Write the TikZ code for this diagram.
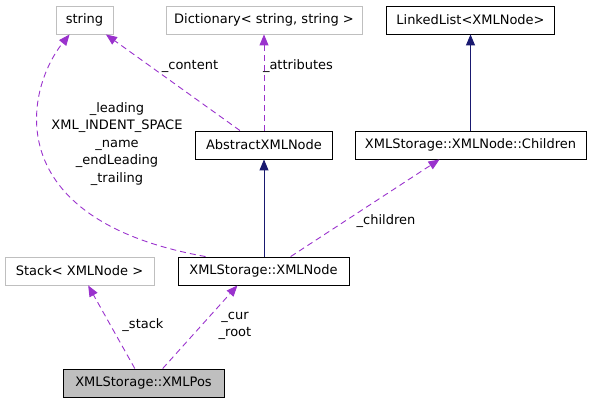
\documentclass[tikz,border=0pt]{standalone}
\usepackage{fontspec}
\setmainfont{DejaVu Sans}
\usetikzlibrary{arrows.meta}
\definecolor{edgepurple}{HTML}{9A32CD}
\definecolor{edgeblue}{HTML}{191970}
\definecolor{boxgray}{HTML}{BFBFBF}
\tikzset{
  cls/.style={draw, line width=0.9pt, minimum width=#1, minimum height=28, inner sep=0pt, font=\fontsize{13}{17.5}\selectfont},
  ext/.style={cls=#1, draw=boxgray},
  usage/.style={draw=edgepurple, line width=0.9pt, dash pattern=on 6pt off 4pt, -{Triangle[length=11pt,width=9pt]}},
  inherit/.style={draw=edgeblue, line width=0.9pt, -{Triangle[length=11pt,width=9pt]}},
  lbl/.style={font=\fontsize{13}{17.5}\selectfont, align=center, inner sep=0pt}
}

\begin{document}
\begin{tikzpicture}[x=1pt, y=-1pt]
    \useasboundingbox (0,0) rectangle (591,403);

    \node[ext=57] (string) at (84.5,20) {string};
    \node[ext=196] (dict) at (264,20) {Dictionary< string, string >};
    \node[cls=168] (list) at (470.5,20) {LinkedList<XMLNode>};
    \node[cls=137] (abstract) at (264,145) {AbstractXMLNode};
    \node[cls=231] (children) at (470.5,145) {XMLStorage::XMLNode::Children};
    \node[ext=149] (stack) at (79.5,271) {Stack< XMLNode >};
    \node[cls=171] (xmlnode) at (263.5,271) {XMLStorage::XMLNode};
    \node[cls=161, fill=boxgray] (xmlpos) at (143.5,383) {XMLStorage::XMLPos};

    % usage relations
    \draw[usage] (xmlnode.166) .. controls +(-207,-37) and +(-45,56) .. (string.224);
    \draw[usage] (abstract.149) -- (string.-34);
    \draw[usage] (abstract) -- (dict);
    \draw[usage] (xmlnode.28) -- (children.-155);
    \draw[usage] (xmlpos.121) -- (stack.-59);
    \draw[usage] (xmlpos.37) -- (xmlnode.-151);

    % inheritance
    \draw[inherit] (xmlnode.north -| abstract.south) -- (abstract.south);
    \draw[inherit] (children) -- (list);

    \node[lbl] (l1) at (117,144) {\_leading\\XML\_INDENT\_SPACE\\\_name\\\_endLeading\\\_trailing};
    \node[lbl] (l2) at (190,66) {\_content};
    \node[lbl] (l3) at (298,66) {\_attributes};
    \node[lbl] (l4) at (386,221) {\_children};
    \node[lbl] (l5) at (143,325) {\_stack};
    \node[lbl] (l6) at (235,326) {\_cur\\\_root};

\end{tikzpicture}
\end{document}
